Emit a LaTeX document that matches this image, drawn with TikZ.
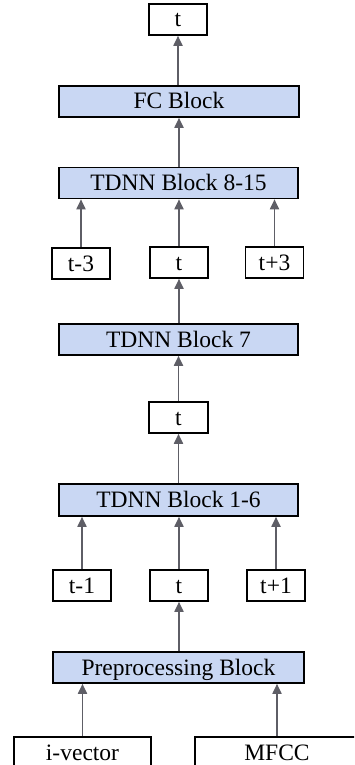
\documentclass[tikz,border=0pt]{standalone}
\usepackage{fontspec}
\setmainfont{Liberation Serif}
\usetikzlibrary{arrows.meta}
\definecolor{blockfill}{HTML}{C9D7F3}
\definecolor{arrowgray}{HTML}{5E5E66}
\tikzset{
  box/.style={draw=black, line width=1.6pt, inner sep=0pt, minimum height=31pt,
    font=\fontsize{23.5}{24}\selectfont, text height=15pt, text depth=0pt, anchor=center},
  smallbox/.style={box, fill=white, minimum width=58pt},
  block/.style={box, fill=blockfill, minimum width=239pt},
  arr/.style={draw=arrowgray, line width=1.8pt, -{Triangle[length=10pt,width=9pt]}}
}
\begin{document}
\begin{tikzpicture}[x=1pt,y=-1pt]
\useasboundingbox (0,0) rectangle (354,765);
\clip (0,0) rectangle (354,765);
\node[smallbox] (tTop) at (178,19.5) {t};
\node[block, minimum width=240pt] (fc) at (179,101.5) {FC Block};
\node[block] (td815) at (178.5,183) {TDNN Block 8-15};
\node[smallbox] (tm3) at (81,263.5) {t-3};
\node[smallbox] (tb) at (179,262.5) {t};
\node[smallbox] (tp3) at (274.5,262.5) {t+3};
\node[block] (td7) at (178.5,339.5) {TDNN Block 7};
\node[smallbox, minimum width=59pt] (tc) at (178.5,417.5) {t};
\node[block, minimum height=32pt] (td16) at (178.5,500) {TDNN Block 1-6};
\node[smallbox] (tm1) at (82,585.5) {t-1};
\node[smallbox] (td) at (179,585.5) {t};
\node[smallbox] (tp1) at (276,585.5) {t+1};
\node[block, minimum width=251pt] (pre) at (178.5,667.5) {Preprocessing Block};
\node[smallbox, minimum width=137pt] (ivec) at (82.5,752.5) {i-vector};
\node[smallbox, minimum width=164pt] (mfcc) at (277,752.5) {MFCC};
% arrows
\draw[arr] (fc.north -| tTop.south) -- (tTop.south);
\draw[arr] (td815.north -| fc.south) -- (fc.south);
\draw[arr] (tm3.north) -- (tm3.north |- td815.south);
\draw[arr] (tb.north) -- (tb.north |- td815.south);
\draw[arr] (tp3.north) -- (tp3.north |- td815.south);
\draw[arr] (td7.north -| tb.south) -- (tb.south);
\draw[arr] (tc.north) -- (tc.north |- td7.south);
\draw[arr] (td16.north -| tc.south) -- (tc.south);
\draw[arr] (tm1.north) -- (tm1.north |- td16.south);
\draw[arr] (td.north) -- (td.north |- td16.south);
\draw[arr] (tp1.north) -- (tp1.north |- td16.south);
\draw[arr] (pre.north -| td.south) -- (td.south);
\draw[arr] (ivec.north) -- (ivec.north |- pre.south);
\draw[arr] (mfcc.north) -- (mfcc.north |- pre.south);
\end{tikzpicture}
\end{document}
